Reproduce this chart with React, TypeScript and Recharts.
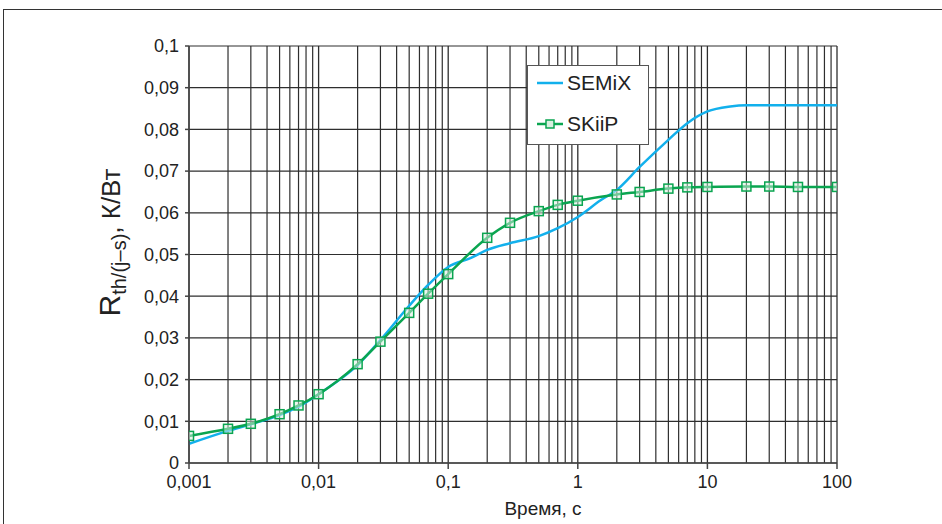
import React from "react";
import {
  LineChart,
  Line,
  XAxis,
  YAxis,
  CartesianGrid,
  ReferenceLine,
  Legend,
} from "recharts";

// time, s
const semixTime = [
  0.001, 0.002, 0.003, 0.005, 0.007, 0.01, 0.015, 0.02, 0.03, 0.05, 0.07, 0.1,
  0.15, 0.2, 0.3, 0.5, 0.7, 1, 1.5, 2, 3, 5, 7, 10, 15, 20, 30, 50, 100,
];
// Rth(j-s), K/W
const semixRth = [
  0.0046, 0.0077, 0.0093, 0.0115, 0.0135, 0.0165, 0.0203, 0.0235, 0.0295,
  0.0377, 0.0427, 0.047, 0.0492, 0.0511, 0.0527, 0.0544, 0.0563, 0.059, 0.063,
  0.0655, 0.071, 0.0775, 0.0815, 0.0843, 0.0855, 0.0858, 0.0858, 0.0858,
  0.0858,
];

const skiipTime = [
  0.001, 0.002, 0.003, 0.005, 0.007, 0.01, 0.02, 0.03, 0.05, 0.07, 0.1, 0.2,
  0.3, 0.5, 0.7, 1, 2, 3, 5, 7, 10, 20, 30, 50, 100,
];
const skiipRth = [
  0.0065, 0.0082, 0.0094, 0.0117, 0.0138, 0.0165, 0.0237, 0.0291, 0.036,
  0.0406, 0.0453, 0.054, 0.0576, 0.0604, 0.0619, 0.0629, 0.0644, 0.065, 0.0658,
  0.0661, 0.0662, 0.0663, 0.0663, 0.0662, 0.0662,
];

const xTicks = [0.001, 0.01, 0.1, 1, 10, 100];
const yTicks = [0, 0.01, 0.02, 0.03, 0.04, 0.05, 0.06, 0.07, 0.08, 0.09, 0.1];
const decades = [0.001, 0.01, 0.1, 1, 10];
const mults = [2, 3, 4, 5, 6, 7, 8, 9];
const minorTimes = decades.flatMap((d) => mults.map((m) => +(d * m).toPrecision(3)));

const semixData = semixTime.map((t, i) => ({ t, v: semixRth[i] }));
const skiipData = skiipTime.map((t, i) => ({ t, v: skiipRth[i] }));

const BLUE = "#12b0ec";
const GREEN = "#0aa550";
const GRID = "#2e2e2e";
const FONT = "'Liberation Sans', Arial, sans-serif";

function fmt(v: number) {
  return String(v).replace(".", ",");
}

function SquareDot(props: any) {
  const { cx, cy } = props;
  if (cx == null || cy == null) return null;
  return (
    <rect
      x={cx - 4.5}
      y={cy - 4.5}
      width={9}
      height={9}
      fill="#d8f0e0"
      fillOpacity={0.5}
      stroke={GREEN}
      strokeWidth={1.5}
    />
  );
}

function YTitle(props: any) {
  const { viewBox } = props;
  const cy = viewBox.y + viewBox.height / 2 - 12;
  const x = 120;
  return (
    <text
      x={x}
      y={cy}
      transform={`rotate(-90 ${x} ${cy})`}
      textAnchor="middle"
      fontFamily={FONT}
      fill="#222"
    >
      <tspan fontSize={30}>R</tspan>
      <tspan fontSize={20} dy={6}>
        th/(j–s)
      </tspan>
      <tspan fontSize={26} dy={-6}>
        , К/Вт
      </tspan>
    </text>
  );
}

function LegendBox() {
  return (
    <svg width={122} height={80} style={{ display: "block" }}>
      <rect x={0.5} y={0.5} width={121} height={79} fill="#fff" stroke="#555" strokeWidth={1} />
      <line x1={10} y1={18} x2={36} y2={18} stroke={BLUE} strokeWidth={2.5} />
      <text x={40} y={25} fontSize={21} fontFamily={FONT} fill="#222">
        SEMiX
      </text>
      <line x1={10} y1={59} x2={36} y2={59} stroke={GREEN} strokeWidth={2.5} />
      <rect x={19} y={55} width={8} height={8} fill="#d8f0e0" stroke={GREEN} strokeWidth={1.5} />
      <text x={40} y={66} fontSize={21} fontFamily={FONT} fill="#222">
        SKiiP
      </text>
    </svg>
  );
}

export default function App() {
  return (
    <div
      style={{
        position: "absolute",
        left: 0,
        top: 0,
        width: 942,
        height: 524,
        background: "#fff",
      }}
    >
      <div
        style={{
          position: "absolute",
          left: 3,
          top: 9,
          width: 939,
          height: 515,
          borderTop: "1.5px solid #333",
          borderLeft: "1.5px solid #333",
        }}
      />
      <LineChart
        width={942}
        height={524}
        margin={{ top: 46, right: 105, bottom: 31, left: 129 }}
        style={{ position: "absolute", left: 0, top: 0 }}
      >
        <CartesianGrid vertical={false} stroke={GRID} strokeWidth={1.2} />
        {minorTimes.map((t) => (
          <ReferenceLine key={t} x={t} stroke={GRID} strokeWidth={1.2} ifOverflow="hidden" />
        ))}
        {xTicks.map((t) => (
          <ReferenceLine key={"d" + t} x={t} stroke={GRID} strokeWidth={1.3} />
        ))}
        <XAxis
          dataKey="t"
          type="number"
          scale="log"
          domain={[0.001, 100]}
          ticks={xTicks}
          tickFormatter={fmt}
          allowDataOverflow
          height={30}
          stroke="#444"
          strokeWidth={1.5}
          tickSize={6}
          tickMargin={6}
          tick={{ fontSize: 18, fill: "#222", fontFamily: FONT }}
          label={{
            value: "Время, с",
            position: "insideBottom",
            offset: -22,
            dx: 30,
            fontSize: 19,
            fill: "#222",
            fontFamily: FONT,
          }}
        />
        <YAxis
          type="number"
          domain={[0, 0.1]}
          ticks={yTicks}
          tickFormatter={fmt}
          width={60}
          stroke="#444"
          strokeWidth={1.5}
          tickSize={4}
          tickMargin={6}
          tick={{ fontSize: 18, fill: "#222", fontFamily: FONT }}
          label={<YTitle />}
        />
        <Legend
          layout="vertical"
          align="center"
          verticalAlign="middle"
          wrapperStyle={{ left: 527, top: 65, width: 122, height: 80 }}
          content={() => <LegendBox />}
        />
        <Line
          data={semixData}
          dataKey="v"
          name="SEMiX"
          type="monotone"
          stroke={BLUE}
          strokeWidth={2.5}
          dot={false}
          isAnimationActive={false}
        />
        <Line
          data={skiipData}
          dataKey="v"
          name="SKiiP"
          type="monotone"
          stroke={GREEN}
          strokeWidth={2.5}
          dot={<SquareDot />}
          isAnimationActive={false}
        />
      </LineChart>
    </div>
  );
}
